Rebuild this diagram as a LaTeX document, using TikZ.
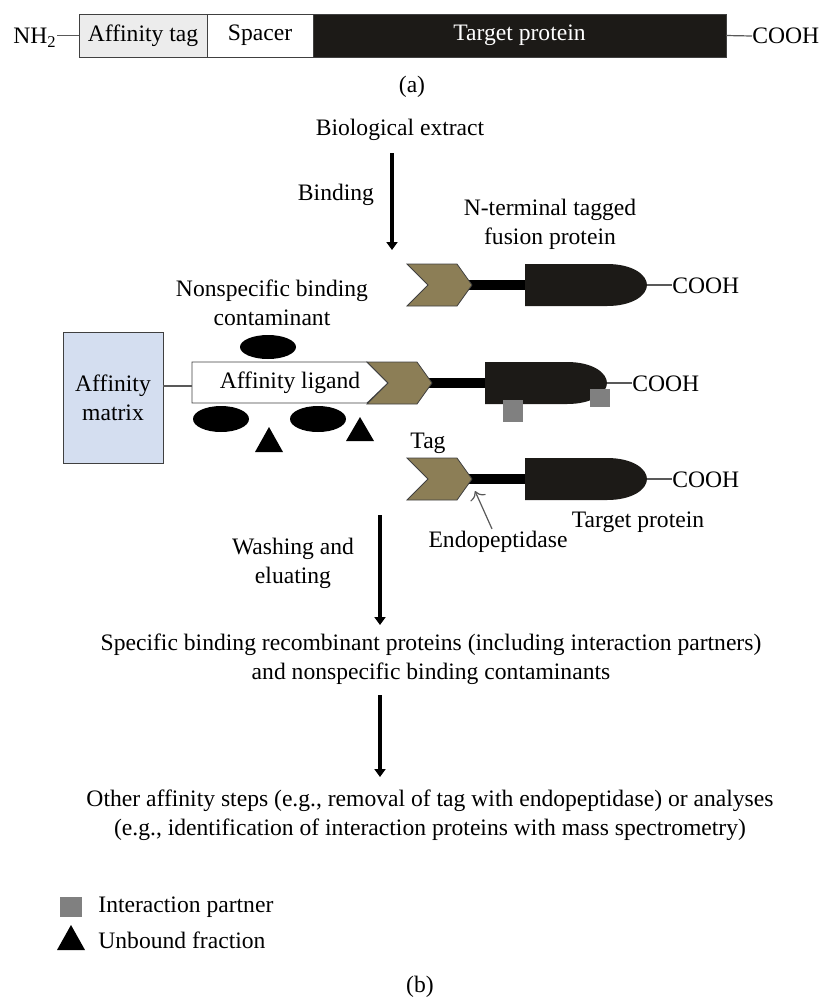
\documentclass[tikz,border=0pt]{standalone}
\usepackage{fontspec}
\setmainfont{Liberation Serif}
\usetikzlibrary{positioning,arrows.meta}

\definecolor{tagcol}{RGB}{140,126,86}
\definecolor{corps}{RGB}{28,26,23}
\definecolor{matrixcol}{RGB}{212,222,240}
\definecolor{tagbox}{RGB}{236,236,236}

\begin{document}
\begin{tikzpicture}[x=0.5pt,y=-0.5pt,
    txt/.style={font=\fontsize{11.8}{14.5}\selectfont, align=center, inner sep=0pt},
    seg/.style={txt, draw=black!75, minimum height=21.5pt, outer sep=0pt},
    gris/.style={draw=black!65, line width=0.6pt},
    fleche/.style={line width=2pt, -{Triangle[length=4pt,width=5.5pt]}}]
    \useasboundingbox (0,0) rectangle (824,998);

    % (a) : la construction
    \node[seg, fill=tagbox, minimum width=64pt, anchor=west] (atag) at (79,35.5) {Affinity tag};
    \node[seg, fill=white, minimum width=53pt, right=0pt of atag] (spacer) {Spacer};
    \node[seg, fill=corps, text=white, minimum width=206.5pt, right=0pt of spacer] (tprot) {Target protein};
    \node[txt, anchor=east] (nh2) at (57,38) {NH\textsubscript{2}};
    \node[txt, anchor=west] (cooha) at (752,36) {COOH};
    \draw[gris] (nh2.east |- atag) -- (atag.west);
    \draw[gris] (tprot.east) -- (cooha.west);
    \node[txt] (lbla) at (412,87) {(a)};

    % (b) : le principe
    \node[txt] (extract) at (400,130) {Biological extract};
    \coordinate (bind1) at (392,153);
    \coordinate (bind2) at (392,250);
    \draw[fleche] (bind1) -- (bind2);
    \node[txt] (binding) at (336,195) {Binding};
    \node[txt] (fusion) at (550,224) {N-terminal tagged\\fusion protein};
    \node[txt] (contam) at (272,303) {Nonspecific binding\\contaminant};

    % matrice et ligand
    \node[txt, draw=black!75, fill=matrixcol, minimum width=50pt, minimum height=65.5pt] (matrix) at (113,397.5) {Affinity\\matrix};
    \draw[draw=black!75, fill=white] (192,362) -- (367,362) -- (388,383) -- (367,403) -- (192,403) -- cycle; % ligand
    \coordinate (ligl) at (192,386);
    \draw[gris] (matrix.east |- ligl) -- (ligl);
    \node[txt] (ligand) at (290,383) {Affinity ligand};

    % contaminants
    \fill (268,347) ellipse [x radius=14pt, y radius=6pt];
    \fill (221,419) ellipse [x radius=14pt, y radius=6.5pt];
    \fill (318,419) ellipse [x radius=14pt, y radius=6.5pt];
    \fill (269,427) -- (283,452) -- (255,452) -- cycle; % fraction libre
    \fill (360,417) -- (374,441) -- (346,441) -- cycle;

    % les trois proteines de fusion
    \foreach \L/\c/\nom in {407/285/pa, 367/383/pb, 407/479/pc} {
        \fill[black] ({\L+60},{\c-5}) rectangle ({\L+122},{\c+5}); % espaceur
        \draw[draw=black!75, fill=tagcol] (\L,{\c-21}) -- ({\L+50},{\c-21}) -- ({\L+65},\c)
            -- ({\L+50},{\c+21}) -- (\L,{\c+21}) -- ({\L+21},\c) -- cycle; % tag
        \fill[corps] ({\L+118},{\c-21}) -- ({\L+200},{\c-21})
            .. controls ({\L+226},{\c-21}) and ({\L+240},{\c-10}) .. ({\L+240},\c)
            .. controls ({\L+240},{\c+10}) and ({\L+226},{\c+21}) .. ({\L+200},{\c+21})
            -- ({\L+118},{\c+21}) -- cycle; % proteine cible
        \coordinate (\nom tip) at ({\L+240},\c);
        \node[txt, anchor=west] (\nom cooh) at ({\L+265},{\c+1}) {COOH};
        \draw[gris] (\nom tip) -- (\nom cooh.west |- \nom tip);
    }

    % partenaires d'interaction
    \fill[black!50] (503,400) rectangle (523,422);
    \fill[black!50] (590,389) rectangle (610,407);

    \node[txt] (tag) at (428,443) {Tag};
    \node[txt] (endo) at (498,542) {Endopeptidase};
    \coordinate (cut) at (475,491);
    \draw[gris, -{To[length=4pt]}] ([xshift=-3pt,yshift=1pt]endo.north) -- (cut);
    \node[txt] (target) at (638,522) {Target protein};

    % lavage et elution
    \coordinate (wash1) at (380,515);
    \coordinate (wash2) at (380,625);
    \draw[fleche] (wash1) -- (wash2);
    \node[txt] (washing) at (293,563) {Washing and\\eluating};
    \node[txt] (specific) at (431,659) {Specific binding recombinant proteins (including interaction partners)\\and nonspecific binding contaminants};
    \coordinate (step1) at (380,695);
    \coordinate (step2) at (380,777);
    \draw[fleche] (step1) -- (step2);
    \node[txt] (other) at (430,815) {Other affinity steps (e.g., removal of tag with endopeptidase) or analyses\\(e.g., identification of interaction proteins with mass spectrometry)};

    % legende
    \fill[black!50] (60,897) rectangle (82,917);
    \node[txt, anchor=west] (legpart) at (98,907) {Interaction partner};
    \fill (71,925) -- (85,950) -- (57,950) -- cycle;
    \node[txt, anchor=west] (legfree) at (98,940) {Unbound fraction};
    \node[txt] (lblb) at (420,987) {(b)};
\end{tikzpicture}
\end{document}
